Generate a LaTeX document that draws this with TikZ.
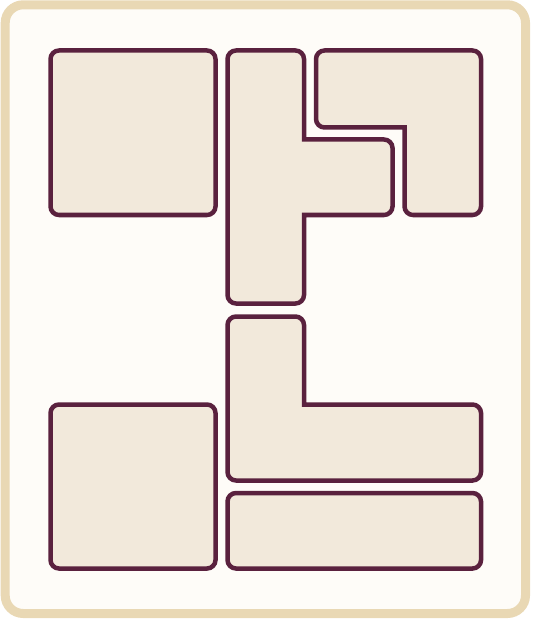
\documentclass[tikz,border=0pt]{standalone}
\usepackage{tikz}

\definecolor{frameedge}{HTML}{E9D8B4}
\definecolor{framefill}{HTML}{FEFCF8}
\definecolor{pieceedge}{HTML}{5A213E}
\definecolor{piecefill}{HTML}{F2E9DB}

\tikzset{
  frame/.style={draw=frameedge, fill=framefill, line width=9pt, rounded corners=18pt},
  piece/.style={draw=pieceedge, fill=piecefill, line width=4.5pt, rounded corners=8.5pt}
}

\begin{document}
\begin{tikzpicture}[x=1pt, y=-1pt]
  \useasboundingbox (0,0) rectangle (532,620);
  % outer board
  \draw[frame] (5.2,4.8) rectangle (525.5,613.5);
  % top row
  \draw[piece] (50.5,50.5) rectangle (215.5,215);
  \draw[piece] (227.5,50.5) -- (304,50.5) [sharp corners]-- (304,139.5) [rounded corners=8.5pt]-- (392.5,139.5) -- (392.5,215) [sharp corners]-- (304,215) [rounded corners=8.5pt]-- (304,303.5) -- (227.5,303.5) -- cycle;
  \draw[piece] (316,50.5) -- (481,50.5) -- (481,215) -- (404.5,215) [sharp corners]-- (404.5,127.5) [rounded corners=8.5pt]-- (316,127.5) -- cycle;
  % bottom row
  \draw[piece] (227.5,316.5) -- (304,316.5) [sharp corners]-- (304,404.5) [rounded corners=8.5pt]-- (481,404.5) -- (481,480.5) -- (227.5,480.5) -- cycle;
  \draw[piece] (50.5,404.5) rectangle (215.5,568.5);
  \draw[piece] (227.5,493) rectangle (481,568.5);
\end{tikzpicture}
\end{document}
